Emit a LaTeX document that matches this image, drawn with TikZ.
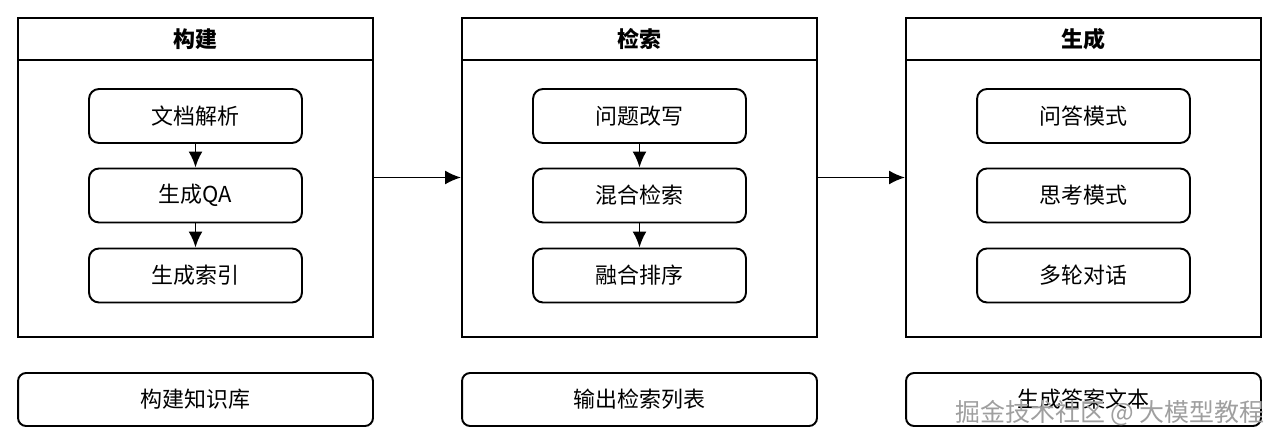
\documentclass[tikz,border=0pt]{standalone}
\usepackage{fontspec}
\setmainfont{Noto Sans CJK SC}
\usetikzlibrary{arrows.meta}
\tikzset{
  panel/.style={draw, line width=1.1pt, minimum width=7.1cm, minimum height=6.38cm},
  titlebar/.style={draw, line width=1.1pt, anchor=north, minimum width=7.1cm, minimum height=0.84cm, font=\bfseries\fontsize{12.5}{14}\selectfont},
  stepbox/.style={draw, line width=1.1pt, rounded corners=0.2cm, minimum width=4.26cm, minimum height=1.08cm, font=\fontsize{12.5}{14}\selectfont},
  resultbox/.style={draw, line width=1.1pt, rounded corners=0.16cm, minimum width=7.1cm, minimum height=1.06cm, font=\fontsize{12.5}{14}\selectfont},
  flow/.style={-{Latex[length=0.32cm,width=0.28cm]}, line width=1.1pt}
}
\begin{document}
\begin{tikzpicture}[x=0.02cm,y=-0.02cm]
			\useasboundingbox (0,0) rectangle (1280,445);
			% PANELS AND RESULTS
			\foreach \name/\x/\title/\result in {build/195.5/构建/构建知识库, search/639.5/检索/输出检索列表, answer/1083.5/生成/生成答案文本} {
				\node[panel] (\name) at (\x,177.5) {};
				\node[titlebar] (\name-title) at (\name.north) {\title};
				\node[resultbox] (\name-result) at (\x,399.5) {\result};
			}

			% BUILD STEPS
			\node[stepbox] (parse) at (195.5,116) {文档解析};
			\node[stepbox] (qa) at (195.5,195.5) {生成QA};
			\node[stepbox] (index) at (195.5,275.5) {生成索引};
			\draw[flow] (parse) -- (qa);
			\draw[flow] (qa) -- (index);

			% SEARCH STEPS
			\node[stepbox] (rewrite) at (639.5,116) {问题改写};
			\node[stepbox] (hybrid) at (639.5,195.5) {混合检索};
			\node[stepbox] (rerank) at (639.5,275.5) {融合排序};
			\draw[flow] (rewrite) -- (hybrid);
			\draw[flow] (hybrid) -- (rerank);

			% ANSWER MODES
			\node[stepbox] (qamode) at (1083.5,116) {问答模式};
			\node[stepbox] (think) at (1083.5,195.5) {思考模式};
			\node[stepbox] (multi) at (1083.5,275.5) {多轮对话};

			% BETWEEN PANELS
			\draw[flow] (build) -- (search);
			\draw[flow] (search) -- (answer);

			% WATERMARK
			\node[text=gray!75, font=\fontsize{14.2}{16}\selectfont] (mark) at (1110,413) {掘金技术社区 @ 大模型教程};
		\end{tikzpicture}
\end{document}
